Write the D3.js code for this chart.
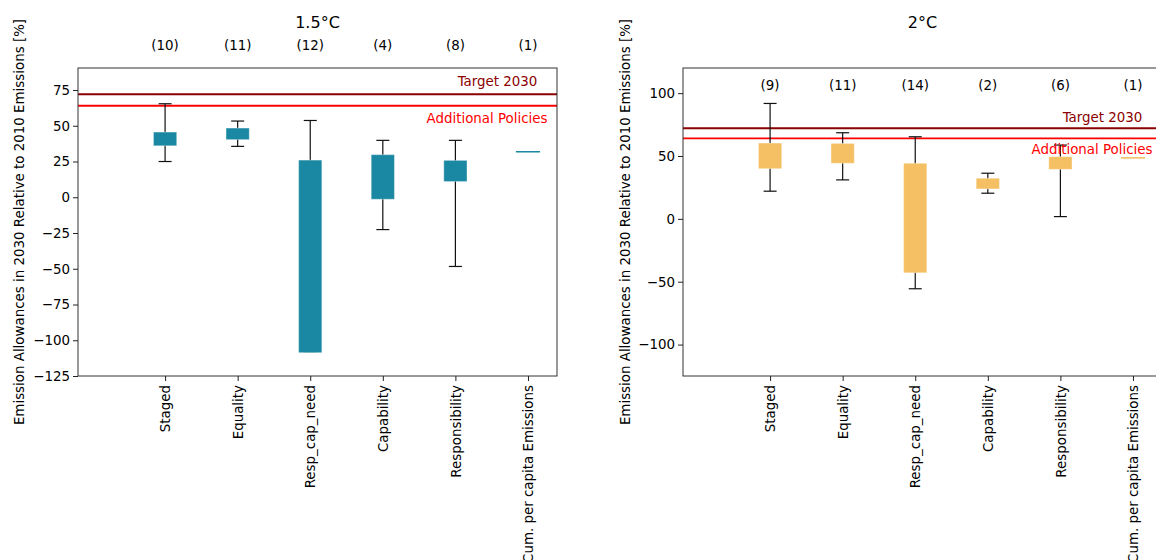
<!DOCTYPE html>
<html lang="en">
<head>
<meta charset="UTF-8" />
<title>Emission Allowances 2030</title>
<script src="https://d3js.org/d3.v7.min.js"></script>
<style>
  body { margin: 0; background: #fff; }
  svg text { font-family: "DejaVu Sans", sans-serif; fill: #000; }
</style>
</head>
<body>
<svg id="chart" width="1156" height="560"></svg>
<script>
// categories and values
var categories = ["Staged", "Equality", "Resp_cap_need", "Capability", "Responsibility", "Cum. per capita Emissions"];

var counts15 = [10, 11, 12, 4, 8, 1];
var low15  = [25, 35.6, -108, -22.6, -48.4, 32];
var q1_15  = [36, 40.3, -108.7, -1.4, 11, 32];
var q3_15  = [45.6, 48.4, 26, 29.8, 25.8, 32];
var high15 = [65.4, 53.3, 53.7, 39.8, 39.8, 32];

var counts2 = [9, 11, 14, 2, 6, 1];
var low2  = [22, 31, -55.6, 20.4, 1.8, 48.7];
var q1_2  = [39.9, 44.2, -42.9, 23.8, 39.4, 48.7];
var q3_2  = [60.3, 60, 44.2, 32.3, 49.5, 48.7];
var high2 = [91.8, 68.5, 65.3, 36.3, 58.7, 48.7];

var target2030 = 72;
var additionalPolicies = 64;

var yTicks15 = [-125, -100, -75, -50, -25, 0, 25, 50, 75];
var yTicks2 = [-100, -50, 0, 50, 100];

var svg = d3.select("#chart");
var axTop = 68, axBottom = 376, axW = 479;
var fs = 13.4;

function panel(opts) {
  var x = d3.scaleLinear().domain([-1.2, 5.4]).range([opts.left, opts.left + axW]);
  var y = d3.scaleLinear().domain(opts.ydom).range([axBottom, axTop]);
  var g = svg.append("g");
  var bw = x(0.32) - x(0);
  var cap = 13;

  // reference lines
  g.append("line")
    .attr("x1", opts.left).attr("x2", opts.left + axW)
    .attr("y1", y(target2030)).attr("y2", y(target2030))
    .attr("stroke", "#8b0000").attr("stroke-width", 2);
  g.append("line")
    .attr("x1", opts.left).attr("x2", opts.left + axW)
    .attr("y1", y(additionalPolicies)).attr("y2", y(additionalPolicies))
    .attr("stroke", "#ff0000").attr("stroke-width", 1.8);

  var idx = d3.range(categories.length);

  // whiskers (behind the boxes)
  g.selectAll(".wh").data(idx).enter().append("line")
    .attr("x1", function (i) { return x(i); })
    .attr("x2", function (i) { return x(i); })
    .attr("y1", function (i) { return y(opts.high[i]); })
    .attr("y2", function (i) { return y(opts.low[i]); })
    .attr("stroke", "#111").attr("stroke-width", 1.2)
    .attr("display", function (i) { return opts.high[i] === opts.low[i] ? "none" : null; });
  ["high", "low"].forEach(function (k) {
    g.selectAll(".cap" + k).data(idx).enter().append("line")
      .attr("x1", function (i) { return x(i) - cap / 2; })
      .attr("x2", function (i) { return x(i) + cap / 2; })
      .attr("y1", function (i) { return y(opts[k][i]); })
      .attr("y2", function (i) { return y(opts[k][i]); })
      .attr("stroke", "#111").attr("stroke-width", 1.2)
      .attr("display", function (i) { return opts.high[i] === opts.low[i] ? "none" : null; });
  });

  // boxes
  g.selectAll(".box").data(idx).enter().append("rect")
    .attr("x", function (i) { return x(i) - bw / 2; })
    .attr("width", bw)
    .attr("y", function (i) { return y(opts.q3[i]); })
    .attr("height", function (i) { return Math.max(0.5, y(opts.q1[i]) - y(opts.q3[i])); })
    .attr("fill", opts.color)
    .attr("stroke", function (i) { return opts.q1[i] === opts.q3[i] ? opts.color : "#ffffff"; })
    .attr("stroke-opacity", function (i) { return opts.q1[i] === opts.q3[i] ? 1 : 0.35; })
    .attr("stroke-width", 1);

  // frame
  g.append("rect")
    .attr("x", opts.left).attr("y", axTop)
    .attr("width", axW).attr("height", axBottom - axTop)
    .attr("fill", "none").attr("stroke", "#333").attr("stroke-width", 1);

  // y axis
  var ya = g.append("g").attr("transform", "translate(" + opts.left + ",0)")
    .call(d3.axisLeft(y).tickValues(opts.yticks).tickSize(5).tickPadding(3).tickSizeOuter(0));
  ya.select(".domain").remove();
  ya.selectAll("text").style("font-size", fs + "px").style("font-family", "DejaVu Sans");
  ya.selectAll("line").attr("stroke", "#222");

  // x axis
  var xa = g.append("g").attr("transform", "translate(0," + axBottom + ")")
    .call(d3.axisBottom(x).tickValues(idx).tickFormat(function (i) { return categories[i]; })
      .tickSize(5).tickSizeOuter(0));
  xa.select(".domain").remove();
  xa.selectAll("line").attr("stroke", "#222");
  xa.selectAll("text")
    .attr("y", null).attr("x", null).attr("dy", "0.35em")
    .attr("transform", "translate(0,9) rotate(-90)")
    .attr("text-anchor", "end")
    .style("font-size", fs + "px").style("font-family", "DejaVu Sans");

  // counts
  g.selectAll(".cnt").data(idx).enter().append("text")
    .attr("x", function (i) { return x(i); })
    .attr("y", y(106))
    .attr("dy", "0.35em")
    .attr("text-anchor", "middle")
    .style("font-size", fs + "px")
    .text(function (i) { return "(" + opts.counts[i] + ")"; });

  // line labels
  g.append("text")
    .attr("x", x(5.13)).attr("y", y(target2030 + 9)).attr("dy", "0.35em")
    .attr("text-anchor", "end").style("font-size", fs + "px")
    .style("fill", "#8b0000").text("Target 2030");
  g.append("text")
    .attr("x", x(5.27)).attr("y", y(additionalPolicies - 9)).attr("dy", "0.35em")
    .attr("text-anchor", "end").style("font-size", fs + "px")
    .style("fill", "#ff0000").text("Additional Policies");

  // title
  g.append("text")
    .attr("x", opts.left + axW / 2).attr("y", 22).attr("dy", "0.35em")
    .attr("text-anchor", "middle").style("font-size", "16px")
    .text(opts.title);

  // y label
  g.append("text")
    .attr("transform", "translate(" + opts.ylabX + "," + ((axTop + axBottom) / 2) + ") rotate(-90)")
    .attr("dy", "0.35em")
    .attr("text-anchor", "middle").style("font-size", fs + "px")
    .text("Emission Allowances in 2030 Relative to 2010 Emissions [%]");
}

panel({ left: 78, ydom: [-125, 90.4], yticks: yTicks15, title: "1.5°C", ylabX: 19,
  color: "#1b88a3", counts: counts15, low: low15, q1: q1_15, q3: q3_15, high: high15 });
panel({ left: 683, ydom: [-125, 120], yticks: yTicks2, title: "2°C", ylabX: 625,
  color: "#f5c063", counts: counts2, low: low2, q1: q1_2, q3: q3_2, high: high2 });
</script>
</body>
</html>
